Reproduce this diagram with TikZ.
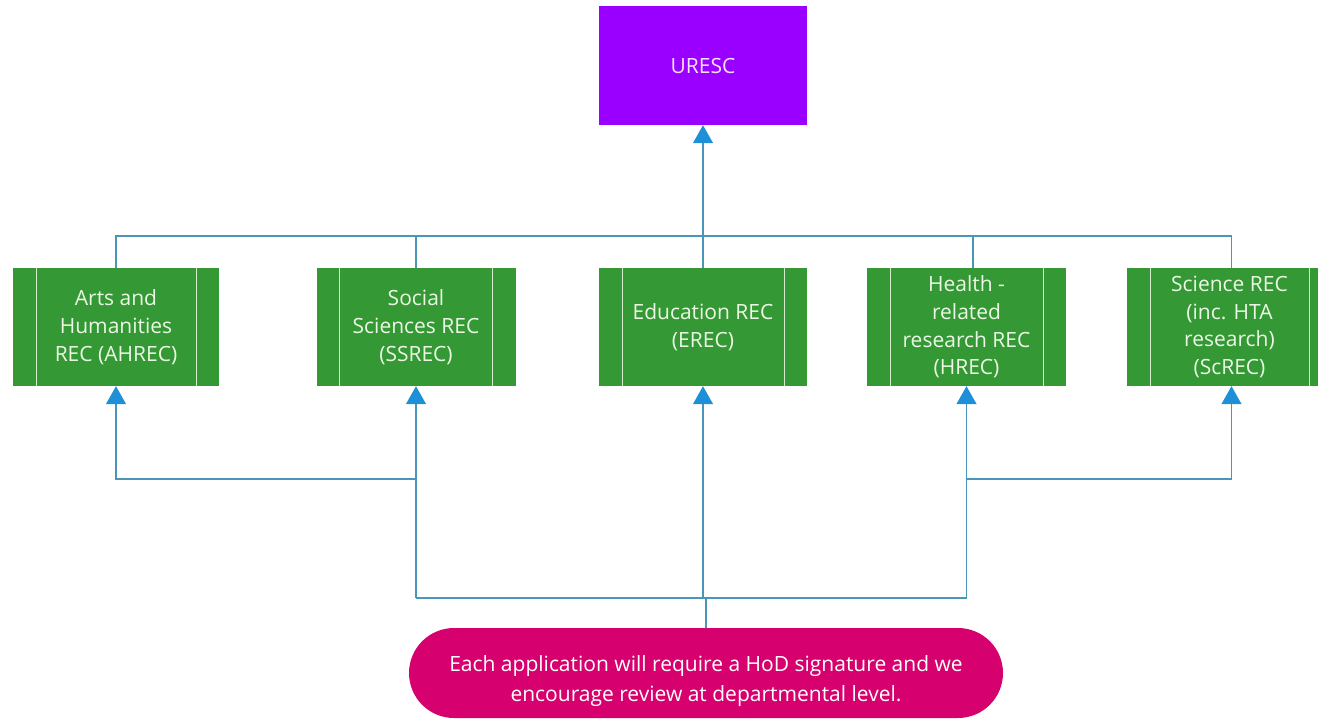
\documentclass[tikz,border=0pt]{standalone}
\usepackage{fontspec}
\setmainfont{Open Sans}
\usetikzlibrary{arrows.meta}
\definecolor{recgreen}{RGB}{52,153,52}
\definecolor{urpurple}{RGB}{153,0,255}
\definecolor{pillpink}{RGB}{214,0,110}
\definecolor{connblue}{RGB}{74,150,184}
\definecolor{tipblue}{RGB}{30,144,216}
\definecolor{stripe}{RGB}{214,236,206}
\definecolor{rectext}{RGB}{236,248,230}
\definecolor{urtext}{RGB}{250,225,250}
\begin{document}
\begin{tikzpicture}[x=1pt,y=-1pt,
  recbox/.style={draw=none, fill=recgreen, minimum height=118pt, inner sep=0pt,
    align=center, text=rectext, font=\fontsize{21}{27.7}\selectfont,
    path picture={
      \draw[stripe, line width=1pt] ([xshift=23pt]path picture bounding box.north west) -- ([xshift=23pt]path picture bounding box.south west);
      \draw[stripe, line width=1pt] ([xshift=-23pt]path picture bounding box.north east) -- ([xshift=-23pt]path picture bounding box.south east);
    }},
  topbox/.style={draw=none, fill=urpurple, minimum width=208pt, minimum height=119pt,
    text=urtext, font=\fontsize{21}{26}\selectfont},
  pillbox/.style={draw=none, fill=pillpink, minimum width=594pt, minimum height=90pt,
    rounded corners=45pt},
  pilltext/.style={align=center, text=white, inner sep=0pt, font=\fontsize{21}{30}\selectfont},
  conn/.style={draw=connblue, line width=1.2pt},
  arr/.style={conn, -{Triangle[width=20pt,length=18pt,color=tipblue]}}
]
\useasboundingbox (0,0) rectangle (1318,724);

\node[topbox] (u) at (703,65.5) {URESC};

\node[recbox, minimum width=206pt] (a) at (116,327) {Arts and\\Humanities\\REC (AHREC)};
\node[recbox, minimum width=199pt] (s) at (416,327) {Social\\Sciences REC\\(SSREC)};
\node[recbox, minimum width=208pt] (e) at (703,327) {Education REC\\(EREC)};
\node[recbox, minimum width=199pt] (h) at (966.5,327) {Health -\\related\\research REC\\(HREC)};
\node[recbox, minimum width=205pt] (sc) at (1229.5,327) {Science REC\\(inc. HTA\\research)\\(ScREC)};

\node[pillbox] (p) at (706,673) {};
\node[pilltext] (pt) at (706,681) {Each application will require a HoD signature and we\\encourage review at departmental level.};

\coordinate (tb) at (0,236);
\coordinate (bl) at (0,479);
\coordinate (pj) at (0,598);

% top connectors
\draw[conn] (a.north) |- ([xshift=2pt]sc.north |- tb) -- ([xshift=2pt]sc.north);
\draw[conn] (s.north) -- (s.north |- tb);
\draw[conn] (e.north) -- (e.north |- tb);
\draw[conn] ([xshift=6.5pt]h.north) -- ([xshift=6.5pt]h.north |- tb);
\draw[arr] (e.north |- tb) -- (u.south);

% bottom connectors
\draw[conn] (p.north) -- (p.north |- pj);
\draw[conn] (s.south |- pj) -- (h.south |- pj);
\draw[arr] (s.south |- pj) -- (s.south);
\draw[arr] (h.south |- pj) -- (h.south);
\draw[arr] (e.south |- pj) -- (e.south);
\draw[arr] (s.south |- bl) -| (a.south);
\draw[arr] (h.south |- bl) -| ([xshift=2pt]sc.south);
\end{tikzpicture}
\end{document}
